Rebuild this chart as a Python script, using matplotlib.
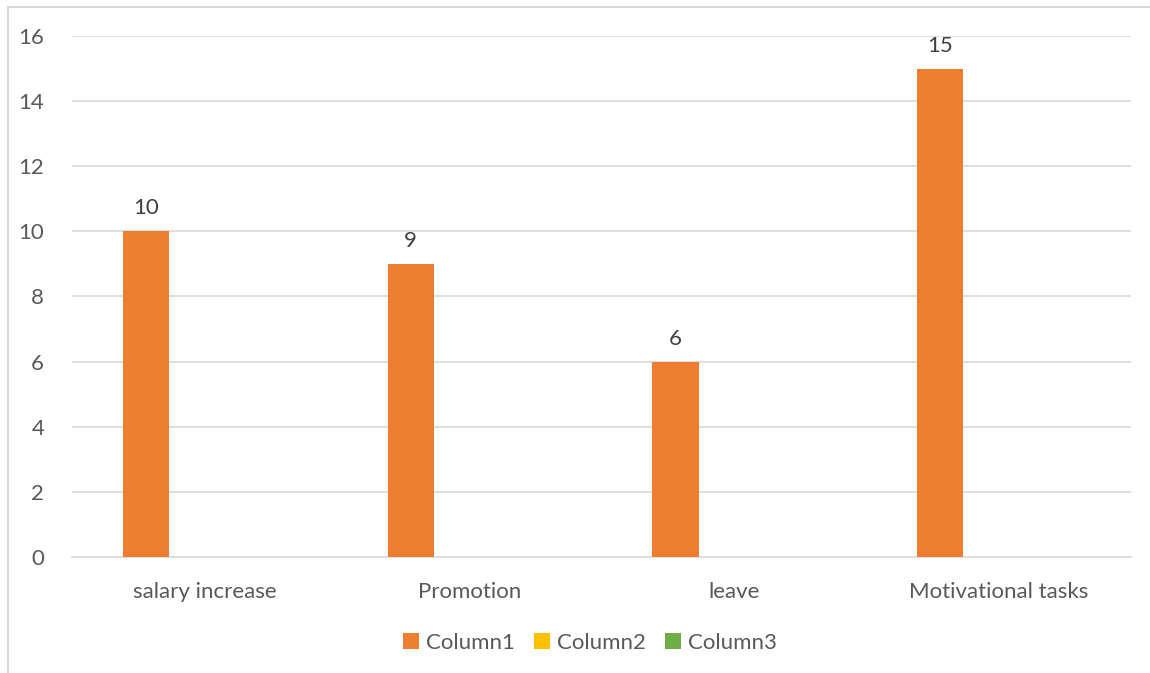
import numpy as np
import matplotlib.pyplot as plt
from matplotlib.lines import Line2D
from matplotlib.patches import Patch

categories = ['salary increase', 'Promotion', 'leave', 'Motivational tasks']
column1 = [10, 9, 6, 15]
column2 = [0, 0, 0, 0]
column3 = [0, 0, 0, 0]
series_names = ['Column1', 'Column2', 'Column3']
colors = ['#ED7D31', '#FFC000', '#70AD47']

plt.rcParams['font.family'] = ['Lato', 'DejaVu Sans']
text_color = '#595959'
grid_color = '#D9D9D9'
fs = 16

fig = plt.figure(figsize=(11.5, 6.73), dpi=100)
ax = fig.add_axes([0.0626, 0.1724, 0.9209, 0.7741])

x = np.arange(len(categories))
width = 0.174
step = 0.2206
for i, vals in enumerate([column1, column2, column3]):
    bars = ax.bar(x + (i - 1) * step, vals, width, color=colors[i], zorder=3)
    if i == 0:
        for b, v in zip(bars, vals):
            ax.text(b.get_x() + b.get_width() / 2, v + 0.4, str(v),
                    ha='center', va='bottom', fontsize=fs, color='#404040')

ax.set_xlim(-0.5, len(categories) - 0.5)
ax.set_ylim(0, 16)
ax.set_yticks(range(0, 17, 2))
ax.set_xticks(x)
ax.set_xticklabels(categories)
ax.yaxis.grid(True, color=grid_color, linewidth=1.2, zorder=0)
for s in ['top', 'right', 'left']:
    ax.spines[s].set_visible(False)
ax.spines['bottom'].set_color(grid_color)
ax.spines['bottom'].set_linewidth(1.2)
ax.tick_params(axis='both', length=0, labelsize=fs, labelcolor=text_color)
ax.tick_params(axis='y', pad=20)
ax.tick_params(axis='x', pad=18)

handles = [Patch(facecolor=c) for c in colors]
fig.legend(handles, series_names, loc='center', bbox_to_anchor=(0.513, 0.045),
           ncol=3, frameon=False, fontsize=fs, handlelength=0.7, handleheight=0.7,
           handletextpad=0.3, columnspacing=0.9, labelcolor=text_color)

# chart area border (only left and top edges fall inside the image)
fig.add_artist(Line2D([0.007, 0.007], [0, 0.99], transform=fig.transFigure,
                      color=grid_color, linewidth=1.5))
fig.add_artist(Line2D([0.007, 1.0], [0.99, 0.99], transform=fig.transFigure,
                      color=grid_color, linewidth=1.5))

fig.savefig('out.png', dpi=100)
